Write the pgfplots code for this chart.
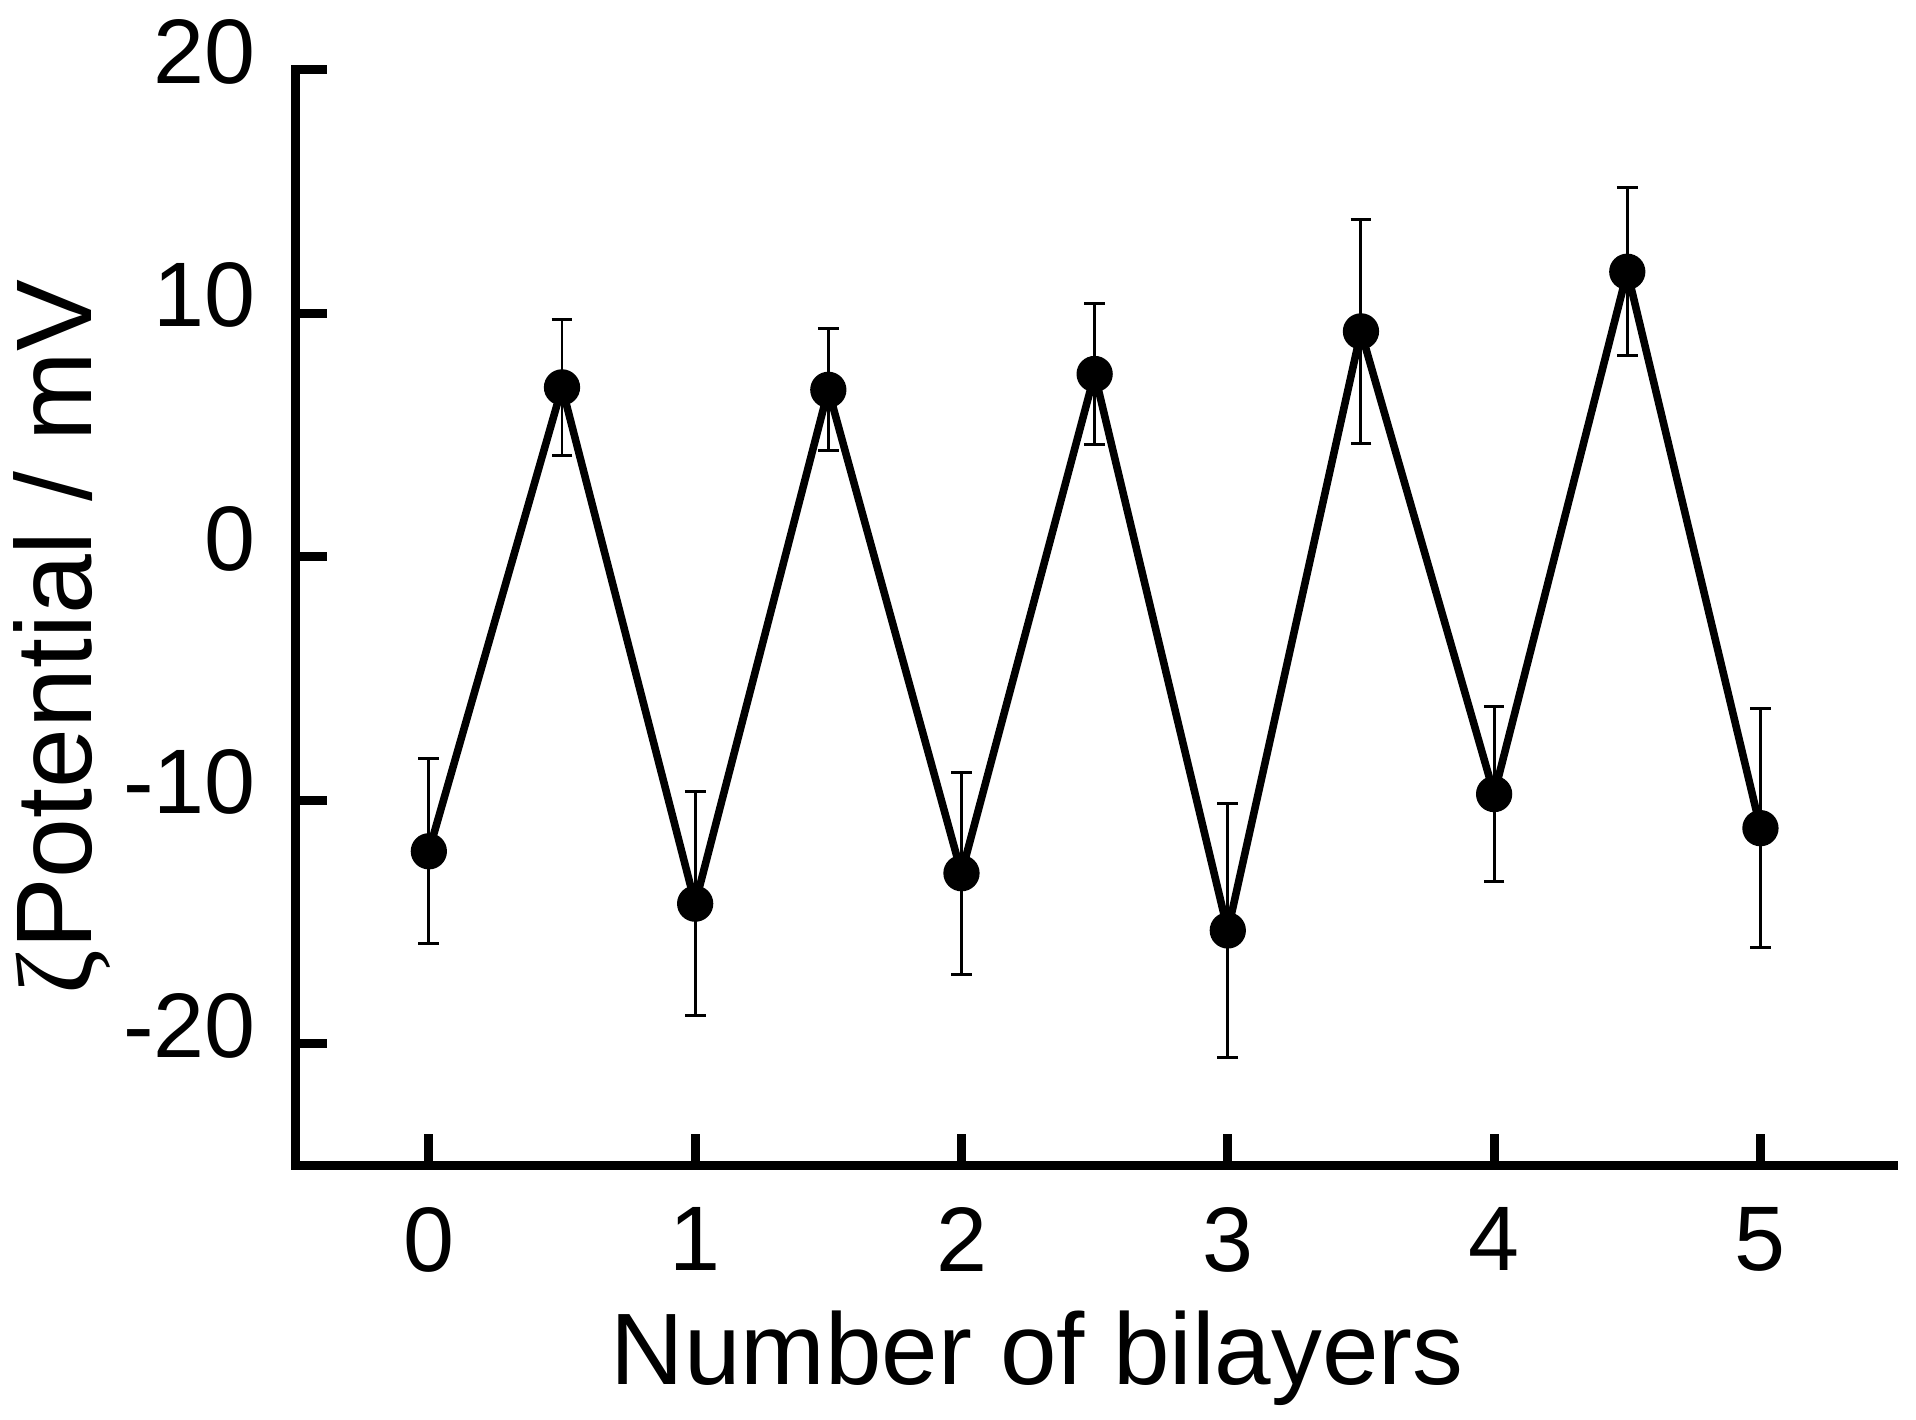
\documentclass[border=0pt]{standalone}
\usepackage{fontspec}
\setmainfont{Liberation Sans}
\newfontfamily\zetafont{Liberation Serif}
\usepackage{pgfplots}
\pgfplotsset{compat=1.18}
\begin{document}
\begin{tikzpicture}
\begin{axis}[
    scale only axis,
    width=401pt, height=275pt,
    xmin=-0.5, xmax=5.5,
    ymin=-25, ymax=20,
    axis lines*=left,
    axis line style={line width=2.25pt, line cap=rect},
    xtick={0,1,2,3,4,5},
    ytick={-20,-10,0,10,20},
    yticklabels={-20,-10,0,10,20},
    xticklabels={0,1,2,3,4,5},
    tick align=inside,
    major tick length=7.9pt,
    tick style={line width=2.25pt, black},
    tick label style={font=\fontsize{23}{26}\selectfont},
    yticklabel style={xshift=-6.5pt, yshift=4.5pt},
    xticklabel style={yshift=-7pt},
    xlabel={Number of bilayers},
    ylabel={{\zetafont ζ}Potential / mV},
    xlabel style={font=\fontsize{25.5}{30}\selectfont, at={(axis description cs:0.464,0)}, anchor=north, yshift=-33pt},
    ylabel style={font=\fontsize{27}{30}\selectfont, at={(axis description cs:0,0.482)}, anchor=south, yshift=43pt},
    clip=false,
]
\addplot+[
    black, line width=1.9pt,
    mark=*, mark size=4.3pt, mark options={fill=black, solid, line width=0.5pt},
    error bars/.cd, y dir=both, y explicit,
    error bar style={line width=0.75pt, black},
    error mark options={rotate=90, mark size=2.6pt, line width=0.75pt, black},
] coordinates {
    (0,   -12.10) +- (0, 3.80)
    (0.5,   6.95) +- (0, 2.80)
    (1,   -14.25) +- (0, 4.60)
    (1.5,   6.85) +- (0, 2.50)
    (2,   -13.00) +- (0, 4.15)
    (2.5,   7.50) +- (0, 2.90)
    (3,   -15.35) +- (0, 5.20)
    (3.5,   9.25) +- (0, 4.60)
    (4,    -9.75) +- (0, 3.60)
    (4.5,  11.70) +- (0, 3.45)
    (5,   -11.15) +- (0, 4.90)
};
\end{axis}
\path (current bounding box.north east) ++(4.5pt,1.5pt);
\end{tikzpicture}
\end{document}
